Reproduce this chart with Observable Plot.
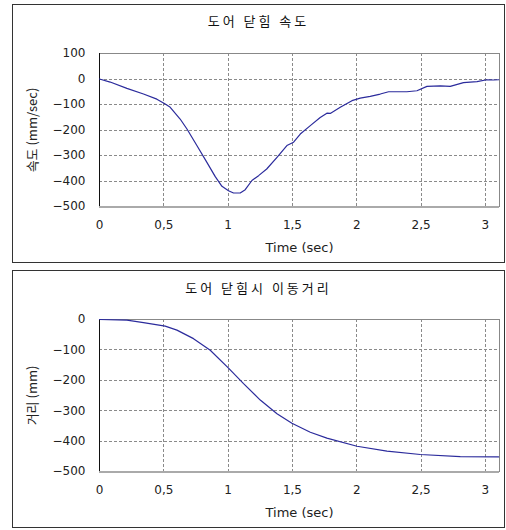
<!DOCTYPE html>
<html><head><meta charset="utf-8">
<script src="https://cdn.jsdelivr.net/npm/d3@7"></script>
<script src="https://cdn.jsdelivr.net/npm/@observablehq/plot@0.6"></script>
<style>
body{margin:0;background:#fff;width:506px;height:530px;position:relative;overflow:hidden;font-family:"DejaVu Sans",sans-serif;}
.panel{position:absolute;left:12px;width:493px;box-sizing:border-box;border:1px solid #333;background:#fff;}
.panel svg{position:absolute;left:0;top:0;}
.title{position:absolute;left:0;width:491px;text-align:center;font-family:"Noto Sans CJK KR",sans-serif;font-size:13px;letter-spacing:3px;color:#111;}
</style></head>
<body>
<div id="p1" class="panel" style="top:4px;height:259px;"><div class="title" style="top:6px;">도어 닫힘 속도</div></div>
<div id="p2" class="panel" style="top:270px;height:258px;"><div class="title" style="top:7px;">도어 닫힘시 이동거리</div></div>
<script>
const timeVel = [0,0.083,0.213,0.342,0.446,0.511,0.55,0.627,0.68,0.757,0.835,0.9,0.952,1.003,1.042,1.094,1.133,1.185,1.237,1.30,1.38,1.457,1.509,1.561,1.639,1.716,1.768,1.794,1.872,1.963,2.027,2.105,2.183,2.248,2.39,2.468,2.546,2.65,2.727,2.83,2.935,3.012,3.064,3.104];
const velocity = [0,-12,-37,-59,-79,-98,-111,-157,-196,-261,-327,-383,-421,-438,-447,-447,-434,-398,-379,-353,-307,-261,-248,-216,-183,-151,-134,-135,-111,-85,-75,-68,-59,-50,-50,-46,-29,-27,-29,-14,-10,-3,-4,-3];
const timeDist = [0,0.213,0.342,0.511,0.602,0.731,0.861,1.003,1.12,1.25,1.38,1.496,1.639,1.768,2.002,2.235,2.494,2.805,3.103];
const distance = [0,-2,-10,-22,-35,-63,-101,-160,-211,-265,-310,-341,-371,-390,-417,-433,-444,-451,-452];
const xTicks = [0,0.5,1,1.5,2,2.5,3];
const velTicks = [100,0,-100,-200,-300,-400,-500];
const distTicks = [0,-100,-200,-300,-400,-500];

const velData = timeVel.map((t,i)=>({t, v: velocity[i]}));
const distData = timeDist.map((t,i)=>({t, v: distance[i]}));
const GRID = "#8a8a8a";

function makeChart(data, yDomain, yTicks, yLabel, h, mt, mb){
  const gx = xTicks.filter(d=>d>0);
  const gy = yTicks.filter(d=>d>yDomain[0] && d<yDomain[1]);
  return Plot.plot({
    width: 491, height: h,
    marginLeft: 86, marginRight: 5, marginTop: mt, marginBottom: mb,
    style: {fontFamily: "DejaVu Sans, sans-serif", fontSize: "12px", color: "#222", background: "transparent"},
    x: {domain: [0, 3.11]},
    y: {domain: yDomain},
    marks: [
      Plot.ruleX(gx, {stroke: GRID, strokeWidth: 1, strokeDasharray: "3,2", shapeRendering: "crispEdges"}),
      Plot.ruleY(gy, {stroke: GRID, strokeWidth: 1, strokeDasharray: "3,2", shapeRendering: "crispEdges"}),
      Plot.frame({stroke: "#888", strokeWidth: 1, shapeRendering: "crispEdges"}),
      Plot.ruleY([yDomain[0]], {stroke: "#aaa", strokeWidth: 2, shapeRendering: "crispEdges"}),
      Plot.axisX({ticks: xTicks, tickSize: 0, tickPadding: 14, tickFormat: d => String(d).replace(".", ","), label: "Time (sec)", labelAnchor: "center", labelArrow: "none", labelOffset: 45, fontSize: 12}),
      Plot.axisY({ticks: yTicks, tickSize: 0, tickPadding: 14, tickFormat: d => d < 0 ? "\u2212" + Math.abs(d) : String(d), label: yLabel, labelAnchor: "center", labelArrow: "none", labelOffset: 72, fontSize: 12}),
      Plot.ruleX([0], {stroke: "#111", strokeWidth: 1.5, shapeRendering: "crispEdges"}),
      Plot.line(data, {x: "t", y: "v", stroke: "#2b2b9c", strokeWidth: 1.2})
    ]
  });
}
const c1 = makeChart(velData, [-500, 100], velTicks, "속도 (mm/sec)", 257, 48, 56);
const c2 = makeChart(distData, [-500, 0], distTicks, "거리 (mm)", 256, 48, 56);
document.getElementById("p1").prepend(c1);
document.getElementById("p2").prepend(c2);
document.querySelectorAll("svg [aria-label='y-axis label']").forEach(e=>{e.style.fontFamily='"Noto Sans CJK KR", sans-serif'; e.style.fontSize='13px';});
document.querySelectorAll("svg [aria-label='x-axis label']").forEach(e=>{e.style.fontSize='13px';});
</script>
</body></html>
